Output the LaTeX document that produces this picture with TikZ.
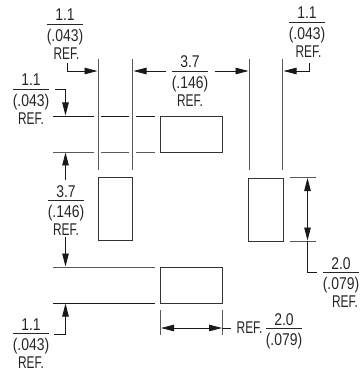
\documentclass[tikz,border=0pt]{standalone}
\usepackage{fontspec}
\setmainfont[FakeStretch=0.82]{Liberation Sans}
\newfontfamily\reffont[FakeStretch=0.7]{Liberation Sans}
\usetikzlibrary{arrows.meta}
\setlength{\arrayrulewidth}{0.6pt}
\newcommand{\dimtext}[3]{\begin{tabular}{@{}c@{}}#1\\[-2.4pt]\hline\rule{0pt}{17pt}#2\\{\reffont #3}\end{tabular}}
\newcommand{\fractext}[2]{\begin{tabular}{@{}c@{}}#1\\[-2.4pt]\hline\rule{0pt}{17pt}#2\end{tabular}}
\tikzset{
    pad/.style={draw, line width=0.8pt, black!80, rectangle, inner sep=0pt, outer sep=0pt},
    padwide/.style={pad, minimum width=62pt, minimum height=36pt},
    padtall/.style={pad, minimum width=34.5pt, minimum height=63pt},
    label/.style={inner sep=0pt, outer sep=0pt, text=black!85, font=\fontsize{17}{18}\selectfont, align=center},
    extline/.style={line width=0.8pt, black!65},
    leader/.style={line width=0.8pt, black!90},
    dimArrow/.style={leader, -{Stealth[length=13pt, width=6.5pt, inset=0pt]}},
    dimBoth/.style={leader, {Stealth[length=13pt, width=6.5pt, inset=0pt]}-{Stealth[length=13pt, width=6.5pt, inset=0pt]}},
}

\begin{document}
\begin{tikzpicture}[x=1pt, y=-1pt]
\useasboundingbox (0,0) rectangle (359,371);

% pads
\node[padwide] (padtop) at (191,134) {};
\node[padtall] (padleft) at (115.5,209) {};
\node[padtall] (padright) at (266,209.5) {};
\node[padwide] (padbottom) at (191,285) {};

% labels
\node[label] (topleft) at (65,36.7) {\dimtext{1.1}{(.043)}{\hspace*{3pt}REF.}};
\node[label] (topmid) at (190,83.7) {\dimtext{3.7}{(.146)}{REF.}};
\node[label] (topright) at (307,34.7) {\dimtext{1.1}{(.043)}{\hspace*{3pt}REF.}};
\node[label] (leftone) at (31,101.7) {\dimtext{1.1}{(.043)}{REF.}};
\node[label] (leftmid) at (66,212.7) {\dimtext{3.7}{(.146)}{REF.}};
\node[label] (leftlow) at (31,345.7) {\dimtext{1.1}{(.043)}{REF.}};
\node[label] (rightlow) at (341,284.7) {\dimtext{2.0}{(.079)}{\hspace*{8pt}REF.}};
\node[label] (botfrac) at (284,331.7) {\fractext{2.0}{(.079)}};
\node[label, left, font=\fontsize{17}{18}\reffont] (botref) at (262.5,328) {REF.};

% vertical extension lines
\foreach \name/\xpos in {a/98, b/132.5, c/249, d/282.5} {
    \coordinate (\name top) at (\xpos,59);
    \coordinate (\name low) at (\xpos,170);
    \draw[extline] (\name top) -- (\name low);
}

% horizontal extension lines, broken at the verticals
\foreach \name/\ypos/\col in {e/116/black!90, f/152/black!65} {
    \foreach \n/\xa/\xb in {1/53/94, 2/101/129, 3/136/155} {
        \coordinate (\name\n a) at (\xa,\ypos);
        \coordinate (\name\n b) at (\xb,\ypos);
        \draw[line width=0.8pt, \col] (\name\n a) -- (\name\n b);
    }
}
\coordinate (g1) at (53,267);
\coordinate (g2) at (155,267);
\coordinate (h1) at (53,303);
\coordinate (h2) at (155,303);
\draw[extline] (g1) -- (g2);
\draw[line width=0.8pt, black!90] (h1) -- (h2);

% extension lines on the right and at the bottom
\coordinate (i1) at (290,177.5);
\coordinate (i2) at (316,177.5);
\coordinate (j1) at (290,241);
\coordinate (j2) at (316,241);
\draw[extline] (i1) -- (i2);
\draw[extline] (j1) -- (j2);
\coordinate (k1) at (160.5,310);
\coordinate (k2) at (160.5,335);
\coordinate (l1) at (222,310);
\coordinate (l2) at (222,335);
\draw[extline] (k1) -- (k2);
\draw[extline] (l1) -- (l2);

% top row
\coordinate (t1) at (67.5,63);
\coordinate (t2) at (67.5,71);
\coordinate (t3) at (97.5,71);
\draw[dimArrow] (t1) -- (t2) -- (t3);
\coordinate (t4) at (166,71);
\coordinate (t5) at (133.5,71);
\draw[dimArrow] (t4) -- (t5);
\coordinate (t6) at (215,71);
\coordinate (t7) at (248.5,71);
\draw[dimArrow] (t6) -- (t7);
\coordinate (t8) at (309.5,63);
\coordinate (t9) at (309.5,71);
\coordinate (t10) at (283.5,71);
\draw[dimArrow] (t8) -- (t9) -- (t10);

% left column
\coordinate (s1) at (55,89);
\coordinate (s2) at (65.5,89);
\coordinate (s3) at (65.5,115.5);
\draw[dimArrow] (s1) -- (s2) -- (s3);
\coordinate (s4) at (65.5,180);
\coordinate (s5) at (65.5,152.5);
\draw[dimArrow] (s4) -- (s5);
\coordinate (s6) at (65.5,237);
\coordinate (s7) at (65.5,266.5);
\draw[dimArrow] (s6) -- (s7);
\coordinate (s8) at (54,334);
\coordinate (s9) at (65.5,334);
\coordinate (s10) at (65.5,303.5);
\draw[dimArrow] (s8) -- (s9) -- (s10);

% right and bottom
\coordinate (r1) at (307.5,178);
\coordinate (r2) at (307.5,240.5);
\coordinate (r3) at (307.5,272);
\coordinate (r4) at (317,272);
\draw[dimBoth] (r1) -- (r2);
\draw[leader] (r2) -- (r3) -- (r4);
\coordinate (b1) at (161,328);
\coordinate (b2) at (222,328);
\coordinate (b3) at (231,328);
\draw[dimBoth] (b1) -- (b2);
\draw[leader] (b2) -- (b3);

\end{tikzpicture}
\end{document}
